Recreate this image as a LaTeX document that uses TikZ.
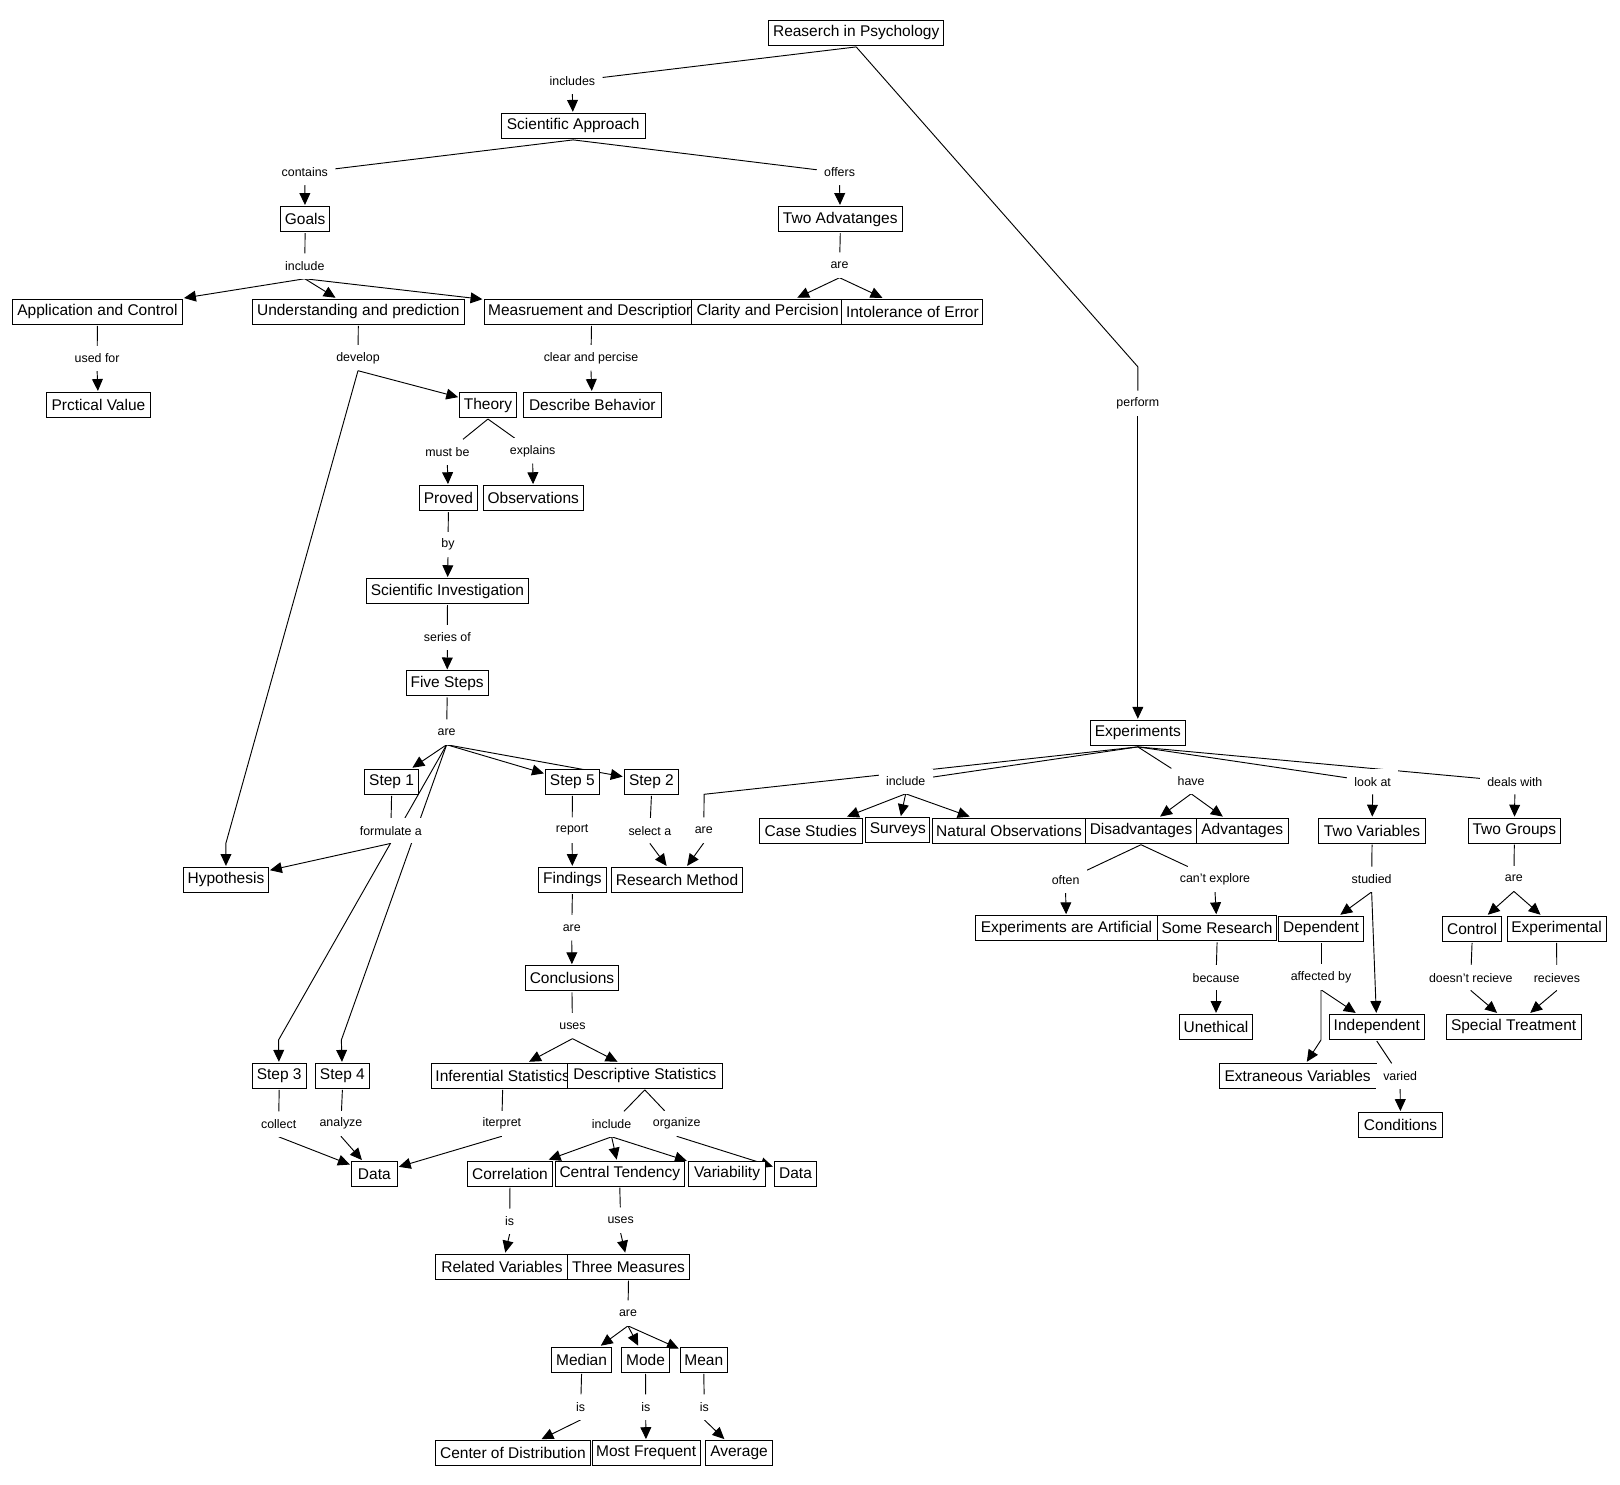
\documentclass[tikz,border=0pt]{standalone}
\usepackage{fontspec}
\setmainfont{Liberation Sans}
\usetikzlibrary{arrows.meta,backgrounds}

\tikzset{
  concept/.style={draw, line width=0.9pt, fill=white, font=\fontsize{15}{18}\selectfont,
    inner xsep=4pt, inner ysep=0pt, minimum height=24.2pt, outer sep=1.5pt},
  linkphrase/.style={fill=white, font=\fontsize{12}{14}\selectfont,
    inner xsep=7pt, inner ysep=0pt, minimum height=24.2pt},
  link/.style={line width=0.9pt},
  arr/.style={line width=0.9pt, -{Triangle[length=11.5pt,width=10.5pt]}}
}

\begin{document}
\begin{tikzpicture}[x=1pt, y=-1pt]
\useasboundingbox (0,0) rectangle (1568,1437);

% Top of the map
\node[concept, minimum width=168.3pt] (rip) at (828.7,31.8) {Reaserch in Psychology};
\node[concept, minimum width=139.6pt] (sa) at (554.8,121.8) {Scientific Approach};
\node[concept, minimum width=47.3pt] (goals) at (295.3,212) {Goals};
\node[concept, minimum width=120pt] (ta) at (813.3,212) {Two Advatanges};
\node[linkphrase] (lIncludes) at (554,78.5) {includes};
\node[linkphrase] (lContains) at (295,167) {contains};
\node[linkphrase] (lOffers) at (812.6,167) {offers};
\node[linkphrase] (lIncl) at (295,257.5) {include};
\node[linkphrase] (lAreAdv) at (812.6,256.5) {are};

% Goals row
\node[concept, minimum width=164.6pt] (ac) at (94.3,301.8) {Application and Control};
\node[concept, minimum width=205pt] (up) at (346.8,301.8) {Understanding and prediction};
\node[concept] (md) at (572.5,301.8) {Measruement and Description};
\node[concept, minimum width=147.3pt] (cp) at (743,301.8) {Clarity and Percision};
\node[concept, minimum width=133pt] (ie) at (883.1,301.8) {Intolerance of Error};
\node[linkphrase] (lUsedFor) at (94,347) {used for};
\node[linkphrase] (lDevelop) at (346.5,346.5) {develop};
\node[linkphrase] (lClear) at (572,346.5) {clear and percise};
\node[concept, minimum width=100.6pt] (pv) at (95.3,392) {Prctical Value};
\node[concept, minimum width=49pt] (th) at (472.3,392) {Theory};
\node[concept, minimum width=133.5pt] (db) at (573.3,392) {Describe Behavior};

% Theory chain
\node[linkphrase] (lMustBe) at (433,437.5) {must be};
\node[linkphrase] (lExplains) at (515.6,436.5) {explains};
\node[concept, minimum width=56.1pt] (pr) at (434,482.2) {Proved};
\node[concept, minimum width=96.8pt] (ob) at (516.2,482.2) {Observations};
\node[linkphrase] (lBy) at (433.6,527) {by};
\node[concept, minimum width=156.4pt] (si) at (433.1,572.2) {Scientific Investigation};
\node[linkphrase] (lSeries) at (433,617) {series of};
\node[concept, minimum width=79.6pt] (fs) at (432.8,661.5) {Five Steps};
\node[linkphrase] (lAreSteps) at (432.3,708.5) {are};

% Steps
\node[concept, minimum width=52.5pt] (st1) at (379,756.7) {Step 1};
\node[concept, minimum width=52.1pt] (st5) at (554,756.7) {Step 5};
\node[concept, minimum width=52.6pt] (st2) at (630.5,756.7) {Step 2};
\node[linkphrase] (lFormulate) at (378.3,804) {formulate a};
\node[linkphrase] (lReport) at (553.8,803.5) {report};
\node[linkphrase] (lSelect) at (629,804) {select a};
\node[linkphrase] (lAreMethod) at (681.2,803.5) {are};
\node[concept, minimum width=81.9pt] (hy) at (218.7,851.7) {Hypothesis};
\node[concept, minimum width=65.5pt] (fi) at (554,851.7) {Findings};
\node[concept, minimum width=126.6pt] (rm) at (655.3,851.7) {Research Method};
\node[linkphrase] (lAreFind) at (553.4,898) {are};
\node[concept, minimum width=90pt] (co) at (553.6,946.8) {Conclusions};
\node[linkphrase] (lUsesConc) at (554.1,993) {uses};

% Statistics
\node[concept, minimum width=52.3pt] (st3) at (270.2,1041.3) {Step 3};
\node[concept, minimum width=52.1pt] (st4) at (331.4,1041.3) {Step 4};
\node[concept, minimum width=131.9pt] (inf) at (486.5,1041.3) {Inferential Statistics};
\node[concept, minimum width=150pt] (ds) at (624.1,1041.3) {Descriptive Statistics};
\node[linkphrase] (lCollect) at (269.7,1088) {collect};
\node[linkphrase] (lAnalyze) at (330,1087.5) {analyze};
\node[linkphrase] (lIterpret) at (485.7,1087.5) {iterpret};
\node[linkphrase] (lInclDesc) at (592,1088) {include};
\node[linkphrase] (lOrganize) at (655,1087.5) {organize};
\node[concept, minimum width=44.4pt] (dataA) at (362.3,1136.4) {Data};
\node[concept, minimum width=81.9pt] (cor) at (493.6,1136) {Correlation};
\node[concept, minimum width=124.8pt] (ct) at (599.9,1136) {Central Tendency};
\node[concept, minimum width=74.9pt] (var) at (703.7,1136) {Variability};
\node[concept, minimum width=40.9pt] (dataB) at (770,1136) {Data};
\node[linkphrase] (lIsCor) at (493.3,1182) {is};
\node[linkphrase] (lUsesCT) at (600.7,1181) {uses};
\node[concept, minimum width=129.1pt] (rv) at (485.9,1226) {Related Variables};
\node[concept, minimum width=115.8pt] (tm) at (608.3,1226) {Three Measures};
\node[linkphrase] (lAreThree) at (607.8,1271) {are};
\node[concept, minimum width=57.7pt] (med) at (562.9,1316.1) {Median};
\node[concept, minimum width=46.1pt] (mode) at (624.8,1316.1) {Mode};
\node[concept, minimum width=45.5pt] (mean) at (681.2,1316.1) {Mean};
\node[linkphrase] (lIsMed) at (562,1362) {is};
\node[linkphrase] (lIsMode) at (625,1362) {is};
\node[linkphrase] (lIsMean) at (681.7,1362) {is};
\node[concept, minimum width=150.4pt] (cod) at (496.5,1406.5) {Center of Distribution};
\node[concept, minimum width=104.2pt] (mf) at (625.4,1406.5) {Most Frequent};
\node[concept, minimum width=64.5pt] (avg) at (715.3,1406.5) {Average};

% Experiments side
\node[linkphrase] (lPerform) at (1101.3,390.5) {perform};
\node[concept, minimum width=92pt] (exp) at (1101.3,709.3) {Experiments};
\node[linkphrase] (lInclExp) at (876.6,756) {include};
\node[linkphrase] (lHave) at (1152.9,756) {have};
\node[linkphrase] (lLookAt) at (1328.6,756.5) {look at};
\node[linkphrase] (lDeals) at (1466.2,756.5) {deals with};
\node[concept, minimum width=99.6pt] (cs) at (784.8,804) {Case Studies};
\node[concept, minimum width=61pt] (sv) at (869,803.5) {Surveys};
\node[concept, minimum width=148.4pt] (nobs) at (976.6,804) {Natural Observations};
\node[concept, minimum width=107.1pt] (dis) at (1104.4,804) {Disadvantages};
\node[concept, minimum width=89pt] (adv) at (1202.4,804) {Advantages};
\node[concept, minimum width=104.2pt] (tv) at (1328,804) {Two Variables};
\node[concept, minimum width=89.1pt] (tg) at (1465.7,804) {Two Groups};
\node[linkphrase] (lOften) at (1031.4,852) {often};
\node[linkphrase] (lCant) at (1176,851) {can't explore};
\node[linkphrase] (lStudied) at (1327.6,851) {studied};
\node[linkphrase] (lAreGroups) at (1465.3,850.5) {are};
\node[concept, minimum width=176.5pt] (eaa) at (1032.2,898.5) {Experiments are Artificial};
\node[concept, minimum width=115.1pt] (sr) at (1178,898.5) {Some Research};
\node[concept, minimum width=82pt] (dep) at (1278.6,899) {Dependent};
\node[concept, minimum width=55.6pt] (ctl) at (1424.8,899) {Control};
\node[concept, minimum width=96pt] (expl) at (1506.6,899) {Experimental};
\node[linkphrase] (lBecause) at (1177,946.3) {because};
\node[linkphrase] (lAffected) at (1278.6,945.7) {affected by};
\node[linkphrase] (lDoesnt) at (1423.5,946.3) {doesn't recieve};
\node[linkphrase] (lRecieves) at (1506.9,946.3) {recieves};
\node[concept, minimum width=69.7pt] (une) at (1177,994) {Unethical};
\node[concept, minimum width=90pt] (ind) at (1332.6,994) {Independent};
\node[concept, minimum width=130.6pt] (spt) at (1465,994) {Special Treatment};
\node[concept, minimum width=151.6pt] (ev) at (1256,1041.3) {Extraneous Variables};
\node[linkphrase] (lVaried) at (1355.2,1041.5) {varied};
\node[concept, minimum width=80.8pt] (cond) at (1355.6,1089) {Conditions};

% bend points
\coordinate (bPerform) at (1101.3,355);
\coordinate (bHyp) at (218.7,816);
\coordinate (bStepThree) at (269.6,1006.6);
\coordinate (bStepFour) at (330.4,1006.6);
\coordinate (bMethod) at (681.5,768.8);
\coordinate (bExtra) at (1278.6,1006.6);

\begin{pgfonlayer}{background}
\fill[white] (0,0) rectangle (1568,1437);

% upper links
\draw[link] (rip.south) -- (lIncludes);
\draw[arr] (lIncludes.south) -- (sa);
\draw[link] (rip.south) -- (bPerform) -- (lPerform);
\draw[arr] (lPerform.south) -- (exp);
\draw[link] (sa.south) -- (lContains);
\draw[arr] (lContains.south) -- (goals);
\draw[link] (sa.south) -- (lOffers);
\draw[arr] (lOffers.south) -- (ta);
\draw[link] (goals.south) -- (lIncl);
\draw[arr] (lIncl.south) -- (ac);
\draw[arr] (lIncl.south) -- (up);
\draw[arr] (lIncl.south) -- (md);
\draw[link] (ta.south) -- (lAreAdv);
\draw[arr] (lAreAdv.south) -- (cp);
\draw[arr] (lAreAdv.south) -- (ie);
\draw[link] (ac.south) -- (lUsedFor);
\draw[arr] (lUsedFor.south) -- (pv);
\draw[link] (up.south) -- (lDevelop);
\draw[arr] (lDevelop.south) -- (th);
\draw[arr] (lDevelop.south) -- (bHyp) -- (hy);
\draw[link] (md.south) -- (lClear);
\draw[arr] (lClear.south) -- (db);

% theory chain
\draw[link] (th.south) -- (lMustBe);
\draw[link] (th.south) -- (lExplains);
\draw[arr] (lMustBe.south) -- (pr);
\draw[arr] (lExplains.south) -- (ob);
\draw[link] (pr.south) -- (lBy);
\draw[arr] (lBy.south) -- (si);
\draw[link] (si.south) -- (lSeries);
\draw[arr] (lSeries.south) -- (fs);
\draw[link] (fs.south) -- (lAreSteps);
\draw[arr] (lAreSteps.south) -- (st1);
\draw[arr] (lAreSteps.south) -- (st5);
\draw[arr] (lAreSteps.south) -- (st2);
\draw[arr] (lAreSteps.south) -- (bStepThree) -- (st3);
\draw[arr] (lAreSteps.south) -- (bStepFour) -- (st4);
\draw[link] (st1.south) -- (lFormulate);
\draw[arr] (lFormulate.south) -- (hy);
\draw[link] (st5.south) -- (lReport);
\draw[arr] (lReport.south) -- (fi);
\draw[link] (st2.south) -- (lSelect);
\draw[arr] (lSelect.south) -- (rm);
\draw[link] (exp.south) -- (bMethod) -- (lAreMethod);
\draw[arr] (lAreMethod.south) -- (rm);
\draw[link] (fi.south) -- (lAreFind);
\draw[arr] (lAreFind.south) -- (co);
\draw[link] (co.south) -- (lUsesConc);
\draw[arr] (lUsesConc.south) -- (inf);
\draw[arr] (lUsesConc.south) -- (ds);

% statistics
\draw[link] (st3.south) -- (lCollect);
\draw[arr] (lCollect.south) -- (dataA);
\draw[link] (st4.south) -- (lAnalyze);
\draw[arr] (lAnalyze.south) -- (dataA);
\draw[link] (inf.south) -- (lIterpret);
\draw[arr] (lIterpret.south) -- (dataA);
\draw[link] (ds.south) -- (lInclDesc);
\draw[link] (ds.south) -- (lOrganize);
\draw[arr] (lInclDesc.south) -- (cor);
\draw[arr] (lInclDesc.south) -- (ct);
\draw[arr] (lInclDesc.south) -- (var);
\draw[arr] (lOrganize.south) -- (dataB);
\draw[link] (cor.south) -- (lIsCor);
\draw[arr] (lIsCor.south) -- (rv);
\draw[link] (ct.south) -- (lUsesCT);
\draw[arr] (lUsesCT.south) -- (tm);
\draw[link] (tm.south) -- (lAreThree);
\draw[arr] (lAreThree.south) -- (med);
\draw[arr] (lAreThree.south) -- (mode);
\draw[arr] (lAreThree.south) -- (mean);
\draw[link] (med.south) -- (lIsMed);
\draw[arr] (lIsMed.south) -- (cod);
\draw[link] (mode.south) -- (lIsMode);
\draw[arr] (lIsMode.south) -- (mf);
\draw[link] (mean.south) -- (lIsMean);
\draw[arr] (lIsMean.south) -- (avg);

% experiments
\draw[link] (exp.south) -- (lInclExp);
\draw[arr] (lInclExp.south) -- (cs);
\draw[arr] (lInclExp.south) -- (sv);
\draw[arr] (lInclExp.south) -- (nobs);
\draw[link] (exp.south) -- (lHave);
\draw[arr] (lHave.south) -- (dis);
\draw[arr] (lHave.south) -- (adv);
\draw[link] (exp.south) -- (lLookAt);
\draw[arr] (lLookAt.south) -- (tv);
\draw[link] (exp.south) -- (lDeals);
\draw[arr] (lDeals.south) -- (tg);
\draw[link] (dis.south) -- (lOften);
\draw[link] (dis.south) -- (lCant);
\draw[arr] (lOften.south) -- (eaa);
\draw[arr] (lCant.south) -- (sr);
\draw[link] (sr.south) -- (lBecause);
\draw[arr] (lBecause.south) -- (une);
\draw[link] (tv.south) -- (lStudied);
\draw[arr] (lStudied.south) -- (dep);
\draw[arr] (lStudied.south) -- (ind);
\draw[link] (dep.south) -- (lAffected);
\draw[arr] (lAffected.south) -- (ind);
\draw[arr] (lAffected.south) -- (bExtra) -- (ev);
\draw[link] (ind.south) -- (lVaried);
\draw[arr] (lVaried.south) -- (cond);
\draw[link] (tg.south) -- (lAreGroups);
\draw[arr] (lAreGroups.south) -- (ctl);
\draw[arr] (lAreGroups.south) -- (expl);
\draw[link] (ctl.south) -- (lDoesnt);
\draw[arr] (lDoesnt.south) -- (spt);
\draw[link] (expl.south) -- (lRecieves);
\draw[arr] (lRecieves.south) -- (spt);
\end{pgfonlayer}

\end{tikzpicture}
\end{document}
